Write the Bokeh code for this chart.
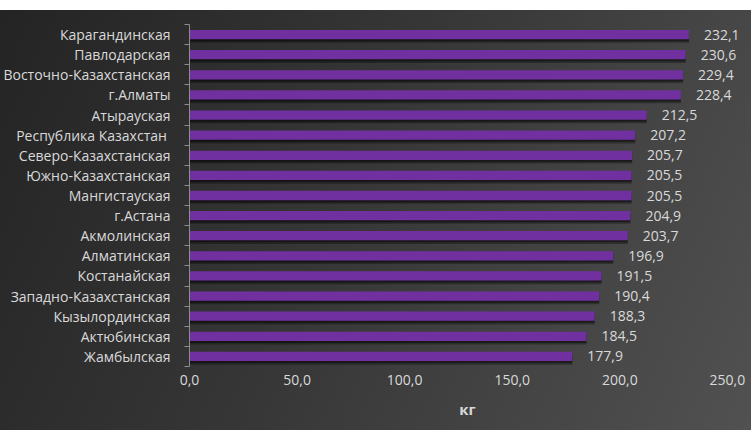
from bokeh.plotting import figure
from bokeh.models import ColumnDataSource, Range1d, FixedTicker, LabelSet
from bokeh.embed import file_html
from bokeh.resources import INLINE
from bokeh.transform import dodge
from bokeh.core.properties import value

regions = [
    "Карагандинская", "Павлодарская", "Восточно-Казахстанская", "г.Алматы",
    "Атырауская", "Республика  Казахстан", "Северо-Казахстанская",
    "Южно-Казахстанская", "Мангистауская", "г.Астана", "Акмолинская",
    "Алматинская", "Костанайская", "Западно-Казахстанская", "Кызылординская",
    "Актюбинская", "Жамбылская",
]
values = [232.1, 230.6, 229.4, 228.4, 212.5, 207.2, 205.7, 205.5, 205.5,
          204.9, 203.7, 196.9, 191.5, 190.4, 188.3, 184.5, 177.9]
x_ticks = [0, 50, 100, 150, 200, 250]
x_tick_labels = ["0,0", "50,0", "100,0", "150,0", "200,0", "250,0"]
unit_label = "кг"

FONT = "Open Sans"
TXT = "#d9d9d9"

n = len(regions)
ypos = [n - 1 - i for i in range(n)]
src = ColumnDataSource(dict(
    y=ypos, v=values,
    lbl=[f"{v:.1f}".replace(".", ",") for v in values],
))

p = figure(width=751, height=430, output_backend="svg", toolbar_location=None,
           x_range=Range1d(x_ticks[0], 258.4), y_range=Range1d(-0.5, n - 0.5),
           min_border_left=188, min_border_right=6, min_border_top=24,
           min_border_bottom=64)

p.background_fill_alpha = 0
p.border_fill_alpha = 0
p.outline_line_color = None
p.styles = {"background": "linear-gradient(115deg, #242424 0%, #363636 45%, #515151 100%) "
                          "0px 10px / 100% calc(100% - 10px) no-repeat, #ffffff"}
p.xgrid.visible = False
p.ygrid.visible = False

# shadows
p.hbar(y=dodge("y", -0.18), left=0, right="v", height=0.46, color="black",
       alpha=0.3, line_color=None, source=src)
p.hbar(y=dodge("y", -0.1), left=0, right="v", height=0.46, color="black",
       alpha=0.4, line_color=None, source=src)
# bars
p.hbar(y="y", left=0, right="v", height=0.46, color="#7030A0", line_color=None,
       source=src)

p.add_layout(LabelSet(x="v", y="y", text="lbl", source=src, x_offset=15,
                      text_align="left", text_baseline="middle",
                      text_font=value(FONT), text_font_size="14px",
                      text_color=TXT))

ya = p.yaxis[0]
ya.ticker = FixedTicker(ticks=ypos, minor_ticks=[k - 0.5 for k in range(n + 1)])
ya.major_label_overrides = {y: r for y, r in zip(ypos, regions)}
ya.major_tick_out = 0
ya.major_tick_in = 0
ya.minor_tick_out = 5
ya.minor_tick_in = 0
ya.axis_line_color = "#8c8c8c"
ya.minor_tick_line_color = "#8c8c8c"
ya.major_label_text_font = FONT
ya.major_label_text_font_size = "14px"
ya.major_label_text_color = TXT
ya.major_label_standoff = 14

xa = p.xaxis[0]
xa.ticker = FixedTicker(ticks=x_ticks)
xa.major_label_overrides = {t: l for t, l in zip(x_ticks, x_tick_labels)}
xa.axis_line_alpha = 0
xa.major_tick_line_alpha = 0
xa.minor_tick_line_alpha = 0
xa.major_tick_out = 0
xa.major_label_text_font = FONT
xa.major_label_text_font_size = "14px"
xa.major_label_text_color = TXT
xa.major_label_standoff = 8
xa.axis_label = unit_label
xa.axis_label_text_font = FONT
xa.axis_label_text_font_size = "15px"
xa.axis_label_text_font_style = "bold"
xa.axis_label_text_color = TXT
xa.axis_label_standoff = 11

open("out.html", "w").write(file_html(p, INLINE))
